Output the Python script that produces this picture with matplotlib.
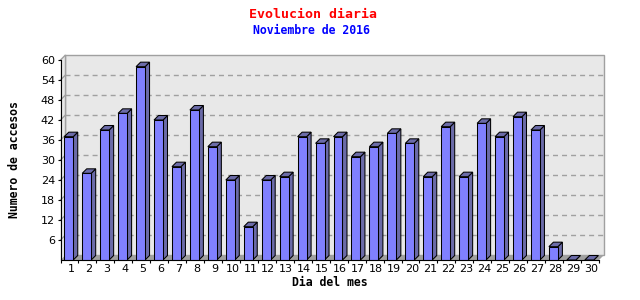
import numpy as np
import matplotlib.pyplot as plt
from matplotlib.patches import Polygon, Rectangle

# datos: accesos por dia, noviembre 2016
dias = list(range(1, 31))
accesos = [37, 26, 39, 44, 58, 42, 28, 45, 34, 24,
           10, 24, 25, 37, 35, 37, 31, 34, 38, 35,
           25, 40, 25, 41, 37, 43, 39, 4, 0, 0]
yticks = [6, 12, 18, 24, 30, 36, 42, 48, 54, 60]

titulo = "Evolucion diaria"
subtitulo = "Noviembre de 2016"
xlab = "Dia del mes"
ylab = "Numero de accesos"

frente = "#8080ff"
lado = "#6b6ba8"
pared = "#e8e8e8"
gris = "#a0a0a0"
mono = "DejaVu Sans Mono"

fig = plt.figure(figsize=(6.4, 3), dpi=100)
fig.patch.set_facecolor("white")
ax = fig.add_axes([60.5/640, 40/300, 538.5/640, 200/300])
ax.set_xlim(0.5, 30.5)
ax.set_ylim(0, 60)
ax.set_facecolor("none")

# profundidad del efecto 3d (en unidades de datos)
dx = 4.5/17.95
dy = 4.5/3.333

# pared del fondo, pared izquierda y suelo
ax.add_patch(Rectangle((0.5+dx, dy), 30, 60, facecolor=pared, edgecolor=gris,
                       lw=1, zorder=0, clip_on=False))
ax.add_patch(Polygon([(0.5, 0), (0.5+dx, dy), (0.5+dx, 60+dy), (0.5, 60)],
                     closed=True, facecolor=pared, edgecolor="none", zorder=0, clip_on=False))
ax.plot([0.5, 0.5+dx], [60, 60+dy], color=gris, lw=1, zorder=1, clip_on=False)
ax.plot([0.5+dx, 0.5+dx], [dy, 60+dy], color=gris, lw=1, zorder=1, clip_on=False)
for y in yticks[:-1]:
    ax.plot([0.5+dx, 30.5+dx], [y+dy, y+dy], color=gris, lw=1, dashes=(3.6, 2.9),
            zorder=1, clip_on=False)
    ax.plot([0.5, 0.5+dx], [y, y+dy], color=gris, lw=1, zorder=1, clip_on=False)
ax.add_patch(Polygon([(0.5, 0), (30.5, 0), (30.5+dx, dy), (0.5+dx, dy)],
                     closed=True, facecolor=gris, edgecolor="none", zorder=2, clip_on=False))

# barras 3d
w = 0.5
for d, v in zip(dias, accesos):
    x0 = d - 0.5 + 0.21
    ax.add_patch(Polygon([(x0+w, 0), (x0+w+dx, dy), (x0+w+dx, v+dy), (x0+w, v)],
                         closed=True, facecolor=lado, edgecolor="black", lw=0.75,
                         zorder=3, clip_on=False))
    ax.add_patch(Polygon([(x0, v), (x0+dx, v+dy), (x0+w+dx, v+dy), (x0+w, v)],
                         closed=True, facecolor=lado, edgecolor="black", lw=0.75,
                         zorder=3, clip_on=False))
    if v > 0:
        ax.add_patch(Rectangle((x0, 0), w, v, facecolor=frente, edgecolor="black",
                               lw=0.75, zorder=4, clip_on=False))

for s in ["top", "right"]:
    ax.spines[s].set_visible(False)
ax.spines["left"].set_color("black")
ax.spines["bottom"].set_color("black")
ax.spines["left"].set_linewidth(0.8)
ax.spines["bottom"].set_linewidth(0.8)
ax.spines["left"].set_zorder(5)
ax.spines["bottom"].set_zorder(5)

ax.set_yticks(yticks)
ax.set_yticklabels([str(t) for t in yticks], fontsize=8)
ax.tick_params(axis="y", length=2.5, width=0.8, pad=1.5)

ax.set_xticks([d + 0.08 for d in dias])
ax.set_xticklabels([str(d) for d in dias], fontsize=8)
ax.set_xticks(np.arange(0.5, 31, 1), minor=True)
ax.tick_params(axis="x", which="major", length=0, pad=3)
ax.tick_params(axis="x", which="minor", length=2.5, width=0.8)

ax.set_xlabel(xlab, fontsize=8.3, fontweight="bold", family=mono, labelpad=1)
ax.set_ylabel(ylab, fontsize=8.3, fontweight="bold", family=mono, labelpad=14)

fig.text(313/640, 1-14/300, titulo, color="red", fontsize=9.5, fontweight="bold",
         family=mono, ha="center", va="center")
fig.text(311/640, 1-31/300, subtitulo, color="blue", fontsize=8.3, fontweight="bold",
         family=mono, ha="center", va="center")

fig.savefig("out.png", dpi=100)
